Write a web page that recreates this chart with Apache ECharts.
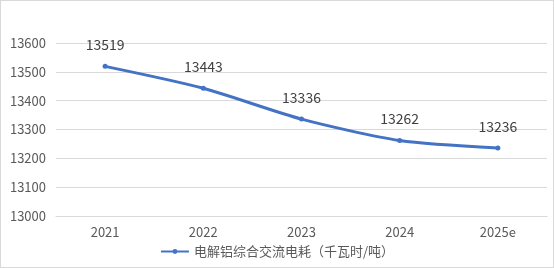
<!DOCTYPE html>
<html><head><meta charset="utf-8">
<script src="https://cdn.jsdelivr.net/npm/echarts@6/dist/echarts.min.js"></script>
<style>html,body{margin:0;padding:0;background:#fff}#c{width:554px;height:268px;box-sizing:border-box;border:1px solid #d9d9d9}</style>
</head><body><div id="c"></div>
<script>
var categories = ['2021','2022','2023','2024','2025e'];
var values = [13519, 13443, 13336, 13262, 13236];
var seriesName = '电解铝综合交流电耗（千瓦时/吨）';
var yTicks = {min: 13000, max: 13600, interval: 100};
var font = "'Microsoft YaHei','Noto Sans CJK SC',sans-serif";
var chart = echarts.init(document.getElementById('c'), null, {renderer:'canvas'});
chart.setOption({
  animation: false,
  textStyle: {fontFamily: font},
  grid: {left: 55, right: 6, top: 42, bottom: 51},
  legend: {
    bottom: 4, left: 'center', itemWidth: 28, itemHeight: 6, itemGap: 5,
    textStyle: {color: '#595959', fontSize: 13, fontFamily: font},
    data: [seriesName]
  },
  xAxis: {
    type: 'category', data: categories, boundaryGap: true,
    axisLine: {lineStyle: {color: '#d9d9d9'}}, axisTick: {show: false},
    axisLabel: {color: '#595959', fontSize: 13, margin: 10, fontFamily: font}
  },
  yAxis: {
    type: 'value', min: yTicks.min, max: yTicks.max, interval: yTicks.interval,
    axisLine: {show: false}, axisTick: {show: false},
    splitLine: {lineStyle: {color: '#d9d9d9'}},
    axisLabel: {color: '#595959', fontSize: 13, margin: 10, fontFamily: font, formatter: function(v){return String(v);}}
  },
  series: [{
    name: seriesName, type: 'line', data: values, smooth: 0.25,
    symbol: 'circle', symbolSize: 5,
    lineStyle: {color: '#4472C4', width: 3},
    itemStyle: {color: '#4472C4'},
    label: {show: true, position: 'top', distance: 12, color: '#404040', fontSize: 14, fontFamily: font}
  }]
});
</script></body></html>
